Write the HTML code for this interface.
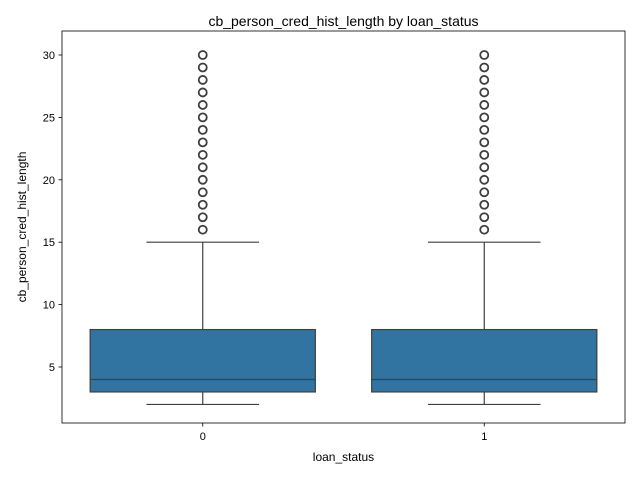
<!DOCTYPE html>
<html><head><meta charset="utf-8"><style>body{margin:0;background:#fff}svg{display:block;font-family:"Liberation Sans","DejaVu Sans",sans-serif}</style></head>
<body>
<svg id="chart" width="640" height="480" xmlns="http://www.w3.org/2000/svg">
<text x="343.5" y="26" font-size="14" text-anchor="middle">cb_person_cred_hist_length by loan_status</text>
<rect x="62" y="31" width="563" height="392" fill="none" stroke="#000" stroke-width="0.8"/>
<text transform="translate(26,227) rotate(-90)" font-size="12" text-anchor="middle">cb_person_cred_hist_length</text>
<text x="343.5" y="461" font-size="12" text-anchor="middle">loan_status</text>
<g id="marks"></g>
</svg>
<script>
const categories = ["0","1"];
const q1 = [3,3];
const median = [4,4];
const q3 = [8,8];
const whiskerLow = [2,2];
const whiskerHigh = [15,15];
const outliers = [
 [16,17,18,19,20,21,22,23,24,25,26,27,28,29,30],
 [16,17,18,19,20,21,22,23,24,25,26,27,28,29,30]
];
const yTicks = [5,10,15,20,25,30];

const svg = document.getElementById('chart');
const g = document.getElementById('marks');
const NS = "http://www.w3.org/2000/svg";
const y = v => 429.4 - v * 12.48;
const x = i => 62 + 563 * (i + 0.5) / categories.length;
const bandW = 563 / categories.length;
function mk(tag, attrs, parent) {
  const e = document.createElementNS(NS, tag);
  for (const k in attrs) e.setAttribute(k, attrs[k]);
  (parent || g).appendChild(e);
  return e;
}
yTicks.forEach(t => {
  const l = mk('line', {x1: 58.5, x2: 62, y1: y(t), y2: y(t), stroke: '#000', 'stroke-width': 0.8});
  
  
  const tx = mk('text', {x: 55, y: y(t) + 4, 'font-size': 11, 'text-anchor': 'end'});
  tx.textContent = t;
  
  
});
categories.forEach((c, i) => {
  const cx = x(i);
  const l = mk('line', {x1: cx, x2: cx, y1: 423, y2: 426.5, stroke: '#000', 'stroke-width': 0.8});
  
  
  const tx = mk('text', {x: cx, y: 440, 'font-size': 11, 'text-anchor': 'middle'});
  tx.textContent = c;
  
  
  const bw = bandW * 0.8, cw = bw / 2;
  const grp = mk('g', {});
  
  
  mk('line', {x1: cx, x2: cx, y1: y(q3[i]), y2: y(whiskerHigh[i]), stroke: '#3f3f3f', 'stroke-width': 1.2}, grp);
  mk('line', {x1: cx, x2: cx, y1: y(q1[i]), y2: y(whiskerLow[i]), stroke: '#3f3f3f', 'stroke-width': 1.2}, grp);
  mk('line', {x1: cx - cw/2, x2: cx + cw/2, y1: y(whiskerHigh[i]), y2: y(whiskerHigh[i]), stroke: '#3f3f3f', 'stroke-width': 1.2}, grp);
  mk('line', {x1: cx - cw/2, x2: cx + cw/2, y1: y(whiskerLow[i]), y2: y(whiskerLow[i]), stroke: '#3f3f3f', 'stroke-width': 1.2}, grp);
  mk('rect', {x: cx - bw/2, y: y(q3[i]), width: bw, height: y(q1[i]) - y(q3[i]), fill: '#3274a1', stroke: '#3f3f3f', 'stroke-width': 1.2}, grp);
  mk('line', {x1: cx - bw/2, x2: cx + bw/2, y1: y(median[i]), y2: y(median[i]), stroke: '#3f3f3f', 'stroke-width': 1.2}, grp);
  outliers[i].forEach(v => {
    const o = mk('circle', {cx: cx, cy: y(v), r: 4, fill: 'none', stroke: '#3f3f3f', 'stroke-width': 1.8});
    
    
  });
});
</script>
</body></html>
